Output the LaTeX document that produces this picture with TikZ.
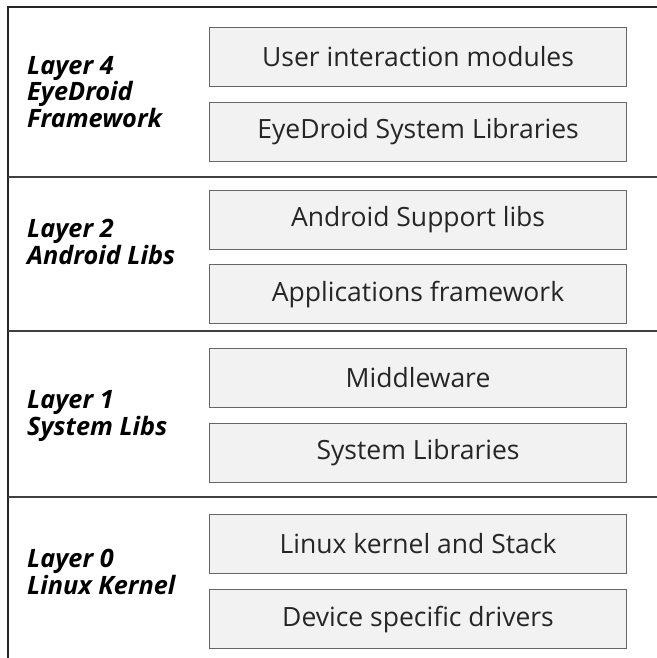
\documentclass[tikz,border=0pt]{standalone}
\usepackage{fontspec}
\setmainfont{Open Sans}
\begin{document}
\begin{tikzpicture}[x=1pt,y=-1pt,
  frame/.style={draw=black!85, line width=1.4pt},
  sep/.style={draw=black!75, line width=1.2pt},
  comp/.style={draw=black!60, line width=1.1pt, fill=black!5, minimum width=417pt, minimum height=59pt, inner sep=0pt, font=\fontsize{26.5}{30}\selectfont, text=black!85, anchor=north west},
  layerlabel/.style={font=\fontsize{25.3}{26.5}\selectfont\bfseries\itshape, align=left, anchor=west, inner sep=0pt, text=black}
]
\useasboundingbox (0,0) rectangle (656,658);
% frame
\coordinate (tl) at (8,7);
\coordinate (tr) at (657,7);
\coordinate (bl) at (8,658);
\draw[frame] (tr) -- (tl) -- (bl);
\coordinate (s1l) at (8,177); \coordinate (s1r) at (657,177);
\coordinate (s2l) at (8,331); \coordinate (s2r) at (657,331);
\coordinate (s3l) at (8,497); \coordinate (s3r) at (657,497);
\draw[sep] (s1l) -- (s1r);
\draw[sep] (s2l) -- (s2r);
\draw[sep] (s3l) -- (s3r);
% boxes
\node[comp] (b41) at (209,27) {User interaction modules};
\node[comp] (b42) at (209,102) {EyeDroid System Libraries};
\node[comp] (b21) at (209,190) {Android Support libs};
\node[comp] (b22) at (209,264) {Applications framework};
\node[comp] (b11) at (209,348) {Middleware};
\node[comp] (b12) at (209,423) {System Libraries};
\node[comp] (b01) at (209,514) {Linux kernel and Stack};
\node[comp] (b02) at (209,589) {Device specific drivers};
% labels
\node[layerlabel] (l4) at (27,92) {Layer 4\\EyeDroid\\Framework};
\node[layerlabel] (l2) at (27,242) {Layer 2\\Android Libs};
\node[layerlabel] (l1) at (27,416) {Layer 1\\System Libs};
\node[layerlabel] (l0) at (27,572) {Layer 0\\Linux Kernel};
\end{tikzpicture}
\end{document}
